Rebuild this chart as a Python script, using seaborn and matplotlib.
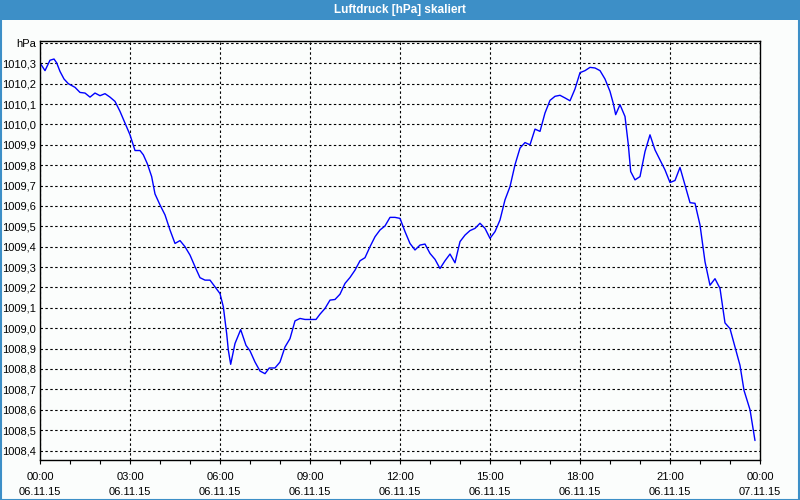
import matplotlib
matplotlib.use("Agg")
import matplotlib.pyplot as plt
import seaborn as sns
import numpy as np
import pandas as pd
from matplotlib.patches import Rectangle
from matplotlib.ticker import FixedLocator, MultipleLocator

# --- data (hours since 06.11.15 00:00, pressure in hPa) ---
hours_p1 = [0.0, 0.167, 0.333, 0.467, 0.556, 0.667, 0.8, 0.944, 1.167, 1.333, 1.5, 1.667,
            1.833, 2.0, 2.167, 2.333, 2.5, 2.667, 2.833, 3.0, 3.167, 3.333, 3.444, 3.578,
            3.722, 3.833, 4.0, 4.167, 4.333, 4.5, 4.667, 4.833, 5.0, 5.167, 5.333, 5.5,
            5.667, 5.833]
vals_p1 = [1010.302, 1010.264, 1010.315, 1010.321, 1010.302, 1010.26, 1010.223, 1010.2,
           1010.182, 1010.157, 1010.154, 1010.134, 1010.154, 1010.141, 1010.151, 1010.134,
           1010.113, 1010.064, 1010.007, 1009.949, 1009.872, 1009.872, 1009.851, 1009.807,
           1009.744, 1009.659, 1009.605, 1009.556, 1009.482, 1009.416, 1009.43, 1009.4,
           1009.359, 1009.302, 1009.248, 1009.236, 1009.236, 1009.203]

hours_p2 = [6.0, 6.111, 6.222, 6.278, 6.356, 6.5, 6.689, 6.867, 7.0, 7.167, 7.333, 7.5,
            7.644, 7.833, 8.0, 8.167, 8.333, 8.5, 8.667, 8.833, 9.0, 9.2, 9.333, 9.5, 9.667,
            9.833, 10.0, 10.167, 10.333, 10.5, 10.667, 10.833, 11.0, 11.167, 11.333, 11.5,
            11.667, 11.833]
vals_p2 = [1009.170, 1009.105, 1008.974, 1008.892, 1008.823, 1008.925, 1008.993, 1008.916,
           1008.889, 1008.834, 1008.790, 1008.777, 1008.805, 1008.805, 1008.834, 1008.908,
           1008.949, 1009.036, 1009.048, 1009.043, 1009.043, 1009.043, 1009.069, 1009.097,
           1009.138, 1009.141, 1009.167, 1009.220, 1009.249, 1009.285, 1009.331, 1009.346,
           1009.400, 1009.449, 1009.482, 1009.502, 1009.544, 1009.544]

hours_p3 = [12.0, 12.167, 12.333, 12.5, 12.667, 12.833, 13.0, 13.167, 13.333, 13.5, 13.667,
            13.833, 14.0, 14.167, 14.333, 14.5, 14.667, 14.833, 15.0, 15.167, 15.333, 15.5,
            15.667, 15.833, 16.0, 16.167, 16.333, 16.5, 16.667, 16.833, 17.0, 17.167, 17.333,
            17.5, 17.667, 17.833]
vals_p3 = [1009.539, 1009.474, 1009.416, 1009.384, 1009.408, 1009.413, 1009.367, 1009.338,
           1009.293, 1009.331, 1009.364, 1009.321, 1009.425, 1009.457, 1009.479, 1009.490,
           1009.515, 1009.490, 1009.441, 1009.474, 1009.531, 1009.630, 1009.695, 1009.802,
           1009.884, 1009.911, 1009.900, 1009.977, 1009.966, 1010.056, 1010.118, 1010.138,
           1010.143, 1010.130, 1010.116, 1010.174]

hours_p4 = [18.0, 18.167, 18.333, 18.5, 18.667, 18.833, 19.0, 19.111, 19.189, 19.333, 19.5,
            19.611, 19.689, 19.833, 20.0, 20.167, 20.333, 20.5, 20.667, 20.833, 21.0, 21.167,
            21.333, 21.5, 21.667, 21.833, 22.0, 22.167, 22.333, 22.5, 22.667, 22.833, 23.0,
            23.167, 23.333, 23.467, 23.667, 23.833]
vals_p4 = [1010.254, 1010.264, 1010.280, 1010.277, 1010.264, 1010.223, 1010.162, 1010.102,
           1010.048, 1010.097, 1010.039, 1009.900, 1009.769, 1009.728, 1009.744, 1009.867,
           1009.949, 1009.875, 1009.826, 1009.777, 1009.715, 1009.725, 1009.789, 1009.703,
           1009.616, 1009.613, 1009.507, 1009.326, 1009.211, 1009.243, 1009.195, 1009.026,
           1008.998, 1008.908, 1008.818, 1008.695, 1008.600, 1008.449]

x_ticks = [0, 3, 6, 9, 12, 15, 18, 21, 24]
x_tick_labels = ["00:00\n06.11.15", "03:00\n06.11.15", "06:00\n06.11.15", "09:00\n06.11.15",
                 "12:00\n06.11.15", "15:00\n06.11.15", "18:00\n06.11.15", "21:00\n06.11.15",
                 "00:00\n07.11.15"]
y_ticks = [1008.4, 1008.5, 1008.6, 1008.7, 1008.8, 1008.9, 1009.0, 1009.1, 1009.2, 1009.3,
           1009.4, 1009.5, 1009.6, 1009.7, 1009.8, 1009.9, 1010.0, 1010.1, 1010.2, 1010.3,
           1010.4]
y_tick_labels = ["1008,4", "1008,5", "1008,6", "1008,7", "1008,8", "1008,9", "1009,0",
                 "1009,1", "1009,2", "1009,3", "1009,4", "1009,5", "1009,6", "1009,7",
                 "1009,8", "1009,9", "1010,0", "1010,1", "1010,2", "1010,3", "hPa"]
title = "Luftdruck [hPa] skaliert"

df = pd.DataFrame({
    "hours": hours_p1 + hours_p2 + hours_p3 + hours_p4,
    "hPa": vals_p1 + vals_p2 + vals_p3 + vals_p4,
})

sns.set_theme(style="white")
plt.rcParams["font.family"] = ["Liberation Sans", "DejaVu Sans"]

W, H = 800, 500
fig = plt.figure(figsize=(W / 100, H / 100), dpi=100, facecolor="#fbfdfc")

# title bar
fig.patches.append(Rectangle((0, 1 - 20 / H), 1, 20 / H, transform=fig.transFigure,
                             facecolor="#3d8fc7", edgecolor="none", zorder=0))
fig.text(0.5, 1 - 10.5 / H, title, ha="center", va="center", color="white",
         fontsize=8.5, fontweight="bold")
# outer border
fig.patches.append(Rectangle((0.5 / W, 0.5 / H), 1 - 1.5 / W, 1 - 1.5 / H,
                             transform=fig.transFigure, facecolor="none",
                             edgecolor="#3d8fc7", linewidth=1.5, zorder=5))

ax = fig.add_axes([40 / W, 40 / H, 720 / W, 419 / H])
ax.set_facecolor("#fbfdfc")

sns.lineplot(data=df, x="hours", y="hPa", ax=ax, color="#0000ff", linewidth=1.0,
             estimator=None, sort=False)

ax.set_xlim(0, 24)
ax.set_ylim(1008.3534, 1010.4094)

ax.xaxis.set_major_locator(FixedLocator(x_ticks))
ax.set_xticklabels(x_tick_labels, fontsize=8, color="black", linespacing=1.55)
ax.xaxis.set_minor_locator(MultipleLocator(1))
ax.set_yticks(y_ticks)
ax.set_yticklabels(y_tick_labels, fontsize=8, color="black")

ax.tick_params(axis="x", which="both", direction="out", length=3, width=0.8,
               color="black", pad=6, bottom=True)
ax.tick_params(axis="y", which="both", length=0, pad=3)

ax.set_xlabel("")
ax.set_ylabel("")

ax.grid(True, which="major", axis="both", color="black", linestyle=(0, (2.2, 2.2)),
        linewidth=0.8)
for s in ax.spines.values():
    s.set_color("black")
    s.set_linewidth(1.0)
    s.set_visible(True)

fig.savefig("out.png", dpi=100, facecolor=fig.get_facecolor())
